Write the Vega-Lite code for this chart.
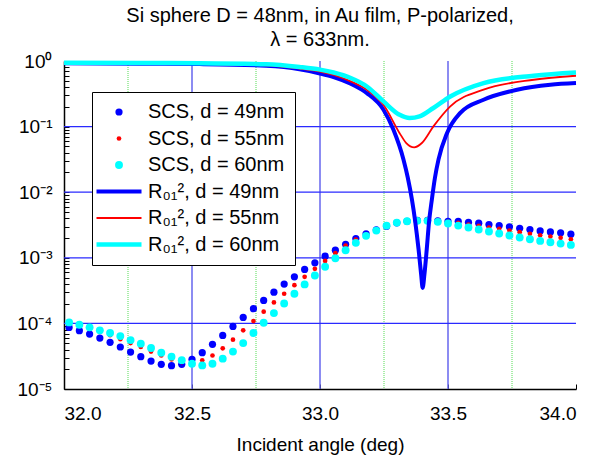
{
  "$schema": "https://vega.github.io/schema/vega-lite/v6.json",
  "width": 512,
  "height": 328,
  "autosize": "none",
  "padding": {"left": 64, "top": 61, "right": 34, "bottom": 73},
  "background": "white",
  "view": {"stroke": null},
  "config": {
    "font": "Liberation Sans",
    "axis": {"labelFont": "Liberation Sans", "labelFontSize": 19, "labelColor": "black", "domainColor": "black", "domainWidth": 1.5, "tickColor": "black", "tickWidth": 1, "grid": false, "titleFont": "Liberation Sans", "titleFontSize": 19, "titleFontWeight": "normal", "titleColor": "black"}
  },
  "title": {"text": ["Si sphere D = 48nm, in Au film, P-polarized,", "λ = 633nm."], "font": "Liberation Sans", "fontSize": 20, "fontWeight": "normal", "color": "black", "lineHeight": 24, "offset": 2, "anchor": "middle"},
  "datasets": {
    "vblue": [{"a": 32.5}, {"a": 33.0}, {"a": 33.5}],
    "vgreen": [{"a": 32.25}, {"a": 32.75}, {"a": 33.25}, {"a": 33.75}],
    "hblue": [{"v": 0.1}, {"v": 0.01}, {"v": 0.001}, {"v": 0.0001}],
    "scs": [
      {"a": 32.02, "v": 8.67e-5, "s": "SCS, d = 49nm"},
      {"a": 32.06, "v": 7.76e-5, "s": "SCS, d = 49nm"},
      {"a": 32.10, "v": 6.87e-5, "s": "SCS, d = 49nm"},
      {"a": 32.14, "v": 5.97e-5, "s": "SCS, d = 49nm"},
      {"a": 32.18, "v": 5.14e-5, "s": "SCS, d = 49nm"},
      {"a": 32.22, "v": 4.37e-5, "s": "SCS, d = 49nm"},
      {"a": 32.26, "v": 3.66e-5, "s": "SCS, d = 49nm"},
      {"a": 32.30, "v": 3.11e-5, "s": "SCS, d = 49nm"},
      {"a": 32.34, "v": 2.67e-5, "s": "SCS, d = 49nm"},
      {"a": 32.38, "v": 2.38e-5, "s": "SCS, d = 49nm"},
      {"a": 32.42, "v": 2.27e-5, "s": "SCS, d = 49nm"},
      {"a": 32.46, "v": 2.38e-5, "s": "SCS, d = 49nm"},
      {"a": 32.50, "v": 2.83e-5, "s": "SCS, d = 49nm"},
      {"a": 32.54, "v": 3.58e-5, "s": "SCS, d = 49nm"},
      {"a": 32.58, "v": 4.79e-5, "s": "SCS, d = 49nm"},
      {"a": 32.62, "v": 6.56e-5, "s": "SCS, d = 49nm"},
      {"a": 32.66, "v": 8.99e-5, "s": "SCS, d = 49nm"},
      {"a": 32.70, "v": 1.233e-4, "s": "SCS, d = 49nm"},
      {"a": 32.74, "v": 1.675e-4, "s": "SCS, d = 49nm"},
      {"a": 32.78, "v": 2.24e-4, "s": "SCS, d = 49nm"},
      {"a": 32.82, "v": 2.99e-4, "s": "SCS, d = 49nm"},
      {"a": 32.86, "v": 3.98e-4, "s": "SCS, d = 49nm"},
      {"a": 32.90, "v": 5.13e-4, "s": "SCS, d = 49nm"},
      {"a": 32.94, "v": 6.64e-4, "s": "SCS, d = 49nm"},
      {"a": 32.98, "v": 8.39e-4, "s": "SCS, d = 49nm"},
      {"a": 33.02, "v": 1.057e-3, "s": "SCS, d = 49nm"},
      {"a": 33.06, "v": 1.306e-3, "s": "SCS, d = 49nm"},
      {"a": 33.10, "v": 1.61e-3, "s": "SCS, d = 49nm"},
      {"a": 33.14, "v": 1.968e-3, "s": "SCS, d = 49nm"},
      {"a": 33.18, "v": 2.317e-3, "s": "SCS, d = 49nm"},
      {"a": 33.22, "v": 2.667e-3, "s": "SCS, d = 49nm"},
      {"a": 33.26, "v": 3.027e-3, "s": "SCS, d = 49nm"},
      {"a": 33.30, "v": 3.41e-3, "s": "SCS, d = 49nm"},
      {"a": 33.34, "v": 3.606e-3, "s": "SCS, d = 49nm"},
      {"a": 33.38, "v": 3.733e-3, "s": "SCS, d = 49nm"},
      {"a": 33.42, "v": 3.733e-3, "s": "SCS, d = 49nm"},
      {"a": 33.46, "v": 3.656e-3, "s": "SCS, d = 49nm"},
      {"a": 33.50, "v": 3.606e-3, "s": "SCS, d = 49nm"},
      {"a": 33.54, "v": 3.606e-3, "s": "SCS, d = 49nm"},
      {"a": 33.58, "v": 3.483e-3, "s": "SCS, d = 49nm"},
      {"a": 33.62, "v": 3.365e-3, "s": "SCS, d = 49nm"},
      {"a": 33.66, "v": 3.214e-3, "s": "SCS, d = 49nm"},
      {"a": 33.70, "v": 3.097e-3, "s": "SCS, d = 49nm"},
      {"a": 33.74, "v": 2.965e-3, "s": "SCS, d = 49nm"},
      {"a": 33.78, "v": 2.818e-3, "s": "SCS, d = 49nm"},
      {"a": 33.82, "v": 2.698e-3, "s": "SCS, d = 49nm"},
      {"a": 33.86, "v": 2.57e-3, "s": "SCS, d = 49nm"},
      {"a": 33.90, "v": 2.483e-3, "s": "SCS, d = 49nm"},
      {"a": 33.94, "v": 2.399e-3, "s": "SCS, d = 49nm"},
      {"a": 33.98, "v": 2.291e-3, "s": "SCS, d = 49nm"},
      {"a": 32.02, "v": 1.0e-4, "s": "SCS, d = 55nm"},
      {"a": 32.06, "v": 9.12e-5, "s": "SCS, d = 55nm"},
      {"a": 32.10, "v": 8.32e-5, "s": "SCS, d = 55nm"},
      {"a": 32.14, "v": 7.41e-5, "s": "SCS, d = 55nm"},
      {"a": 32.18, "v": 6.61e-5, "s": "SCS, d = 55nm"},
      {"a": 32.22, "v": 5.75e-5, "s": "SCS, d = 55nm"},
      {"a": 32.26, "v": 5.01e-5, "s": "SCS, d = 55nm"},
      {"a": 32.30, "v": 4.37e-5, "s": "SCS, d = 55nm"},
      {"a": 32.34, "v": 3.72e-5, "s": "SCS, d = 55nm"},
      {"a": 32.38, "v": 3.24e-5, "s": "SCS, d = 55nm"},
      {"a": 32.42, "v": 2.82e-5, "s": "SCS, d = 55nm"},
      {"a": 32.46, "v": 2.57e-5, "s": "SCS, d = 55nm"},
      {"a": 32.50, "v": 2.51e-5, "s": "SCS, d = 55nm"},
      {"a": 32.54, "v": 2.74e-5, "s": "SCS, d = 55nm"},
      {"a": 32.58, "v": 3.24e-5, "s": "SCS, d = 55nm"},
      {"a": 32.62, "v": 4.17e-5, "s": "SCS, d = 55nm"},
      {"a": 32.66, "v": 5.65e-5, "s": "SCS, d = 55nm"},
      {"a": 32.70, "v": 7.83e-5, "s": "SCS, d = 55nm"},
      {"a": 32.74, "v": 1.084e-4, "s": "SCS, d = 55nm"},
      {"a": 32.78, "v": 1.507e-4, "s": "SCS, d = 55nm"},
      {"a": 32.82, "v": 2.09e-4, "s": "SCS, d = 55nm"},
      {"a": 32.86, "v": 2.83e-4, "s": "SCS, d = 55nm"},
      {"a": 32.90, "v": 3.83e-4, "s": "SCS, d = 55nm"},
      {"a": 32.94, "v": 5.13e-4, "s": "SCS, d = 55nm"},
      {"a": 32.98, "v": 6.78e-4, "s": "SCS, d = 55nm"},
      {"a": 33.02, "v": 8.97e-4, "s": "SCS, d = 55nm"},
      {"a": 33.06, "v": 1.175e-3, "s": "SCS, d = 55nm"},
      {"a": 33.10, "v": 1.538e-3, "s": "SCS, d = 55nm"},
      {"a": 33.14, "v": 1.897e-3, "s": "SCS, d = 55nm"},
      {"a": 33.18, "v": 2.239e-3, "s": "SCS, d = 55nm"},
      {"a": 33.22, "v": 2.63e-3, "s": "SCS, d = 55nm"},
      {"a": 33.26, "v": 2.992e-3, "s": "SCS, d = 55nm"},
      {"a": 33.30, "v": 3.365e-3, "s": "SCS, d = 55nm"},
      {"a": 33.34, "v": 3.606e-3, "s": "SCS, d = 55nm"},
      {"a": 33.38, "v": 3.80e-3, "s": "SCS, d = 55nm"},
      {"a": 33.42, "v": 3.89e-3, "s": "SCS, d = 55nm"},
      {"a": 33.46, "v": 3.715e-3, "s": "SCS, d = 55nm"},
      {"a": 33.50, "v": 3.548e-3, "s": "SCS, d = 55nm"},
      {"a": 33.54, "v": 3.404e-3, "s": "SCS, d = 55nm"},
      {"a": 33.58, "v": 3.214e-3, "s": "SCS, d = 55nm"},
      {"a": 33.62, "v": 3.069e-3, "s": "SCS, d = 55nm"},
      {"a": 33.66, "v": 2.891e-3, "s": "SCS, d = 55nm"},
      {"a": 33.70, "v": 2.761e-3, "s": "SCS, d = 55nm"},
      {"a": 33.74, "v": 2.60e-3, "s": "SCS, d = 55nm"},
      {"a": 33.78, "v": 2.455e-3, "s": "SCS, d = 55nm"},
      {"a": 33.82, "v": 2.317e-3, "s": "SCS, d = 55nm"},
      {"a": 33.86, "v": 2.208e-3, "s": "SCS, d = 55nm"},
      {"a": 33.90, "v": 2.109e-3, "s": "SCS, d = 55nm"},
      {"a": 33.94, "v": 2.014e-3, "s": "SCS, d = 55nm"},
      {"a": 33.98, "v": 1.919e-3, "s": "SCS, d = 55nm"},
      {"a": 32.02, "v": 1.035e-4, "s": "SCS, d = 60nm"},
      {"a": 32.06, "v": 9.55e-5, "s": "SCS, d = 60nm"},
      {"a": 32.10, "v": 8.71e-5, "s": "SCS, d = 60nm"},
      {"a": 32.14, "v": 7.83e-5, "s": "SCS, d = 60nm"},
      {"a": 32.18, "v": 7.13e-5, "s": "SCS, d = 60nm"},
      {"a": 32.22, "v": 6.41e-5, "s": "SCS, d = 60nm"},
      {"a": 32.26, "v": 5.57e-5, "s": "SCS, d = 60nm"},
      {"a": 32.30, "v": 4.91e-5, "s": "SCS, d = 60nm"},
      {"a": 32.34, "v": 4.21e-5, "s": "SCS, d = 60nm"},
      {"a": 32.38, "v": 3.57e-5, "s": "SCS, d = 60nm"},
      {"a": 32.42, "v": 3.11e-5, "s": "SCS, d = 60nm"},
      {"a": 32.46, "v": 2.75e-5, "s": "SCS, d = 60nm"},
      {"a": 32.50, "v": 2.43e-5, "s": "SCS, d = 60nm"},
      {"a": 32.54, "v": 2.29e-5, "s": "SCS, d = 60nm"},
      {"a": 32.58, "v": 2.43e-5, "s": "SCS, d = 60nm"},
      {"a": 32.62, "v": 2.90e-5, "s": "SCS, d = 60nm"},
      {"a": 32.66, "v": 3.72e-5, "s": "SCS, d = 60nm"},
      {"a": 32.70, "v": 5.01e-5, "s": "SCS, d = 60nm"},
      {"a": 32.74, "v": 7.13e-5, "s": "SCS, d = 60nm"},
      {"a": 32.78, "v": 1.023e-4, "s": "SCS, d = 60nm"},
      {"a": 32.82, "v": 1.435e-4, "s": "SCS, d = 60nm"},
      {"a": 32.86, "v": 2.014e-4, "s": "SCS, d = 60nm"},
      {"a": 32.90, "v": 2.83e-4, "s": "SCS, d = 60nm"},
      {"a": 32.94, "v": 3.93e-4, "s": "SCS, d = 60nm"},
      {"a": 32.98, "v": 5.37e-4, "s": "SCS, d = 60nm"},
      {"a": 33.02, "v": 7.29e-4, "s": "SCS, d = 60nm"},
      {"a": 33.06, "v": 9.86e-4, "s": "SCS, d = 60nm"},
      {"a": 33.10, "v": 1.306e-3, "s": "SCS, d = 60nm"},
      {"a": 33.14, "v": 1.69e-3, "s": "SCS, d = 60nm"},
      {"a": 33.18, "v": 2.163e-3, "s": "SCS, d = 60nm"},
      {"a": 33.22, "v": 2.60e-3, "s": "SCS, d = 60nm"},
      {"a": 33.26, "v": 3.097e-3, "s": "SCS, d = 60nm"},
      {"a": 33.30, "v": 3.443e-3, "s": "SCS, d = 60nm"},
      {"a": 33.34, "v": 3.606e-3, "s": "SCS, d = 60nm"},
      {"a": 33.38, "v": 3.656e-3, "s": "SCS, d = 60nm"},
      {"a": 33.42, "v": 3.656e-3, "s": "SCS, d = 60nm"},
      {"a": 33.46, "v": 3.532e-3, "s": "SCS, d = 60nm"},
      {"a": 33.50, "v": 3.327e-3, "s": "SCS, d = 60nm"},
      {"a": 33.54, "v": 3.097e-3, "s": "SCS, d = 60nm"},
      {"a": 33.58, "v": 2.891e-3, "s": "SCS, d = 60nm"},
      {"a": 33.62, "v": 2.698e-3, "s": "SCS, d = 60nm"},
      {"a": 33.66, "v": 2.512e-3, "s": "SCS, d = 60nm"},
      {"a": 33.70, "v": 2.344e-3, "s": "SCS, d = 60nm"},
      {"a": 33.74, "v": 2.188e-3, "s": "SCS, d = 60nm"},
      {"a": 33.78, "v": 2.042e-3, "s": "SCS, d = 60nm"},
      {"a": 33.82, "v": 1.919e-3, "s": "SCS, d = 60nm"},
      {"a": 33.86, "v": 1.811e-3, "s": "SCS, d = 60nm"},
      {"a": 33.90, "v": 1.726e-3, "s": "SCS, d = 60nm"},
      {"a": 33.94, "v": 1.648e-3, "s": "SCS, d = 60nm"},
      {"a": 33.98, "v": 1.574e-3, "s": "SCS, d = 60nm"}
    ],
    "refl": [
      {"a": 32.00, "v": 0.923, "s": "R₀₁², d = 49nm"},
      {"a": 32.30, "v": 0.910, "s": "R₀₁², d = 49nm"},
      {"a": 32.53, "v": 0.897, "s": "R₀₁², d = 49nm"},
      {"a": 32.79, "v": 0.845, "s": "R₀₁², d = 49nm"},
      {"a": 32.92, "v": 0.75, "s": "R₀₁², d = 49nm"},
      {"a": 33.00, "v": 0.646, "s": "R₀₁², d = 49nm"},
      {"a": 33.053, "v": 0.569, "s": "R₀₁², d = 49nm"},
      {"a": 33.12, "v": 0.45, "s": "R₀₁², d = 49nm"},
      {"a": 33.183, "v": 0.324, "s": "R₀₁², d = 49nm"},
      {"a": 33.248, "v": 0.181, "s": "R₀₁², d = 49nm"},
      {"a": 33.287, "v": 0.0897, "s": "R₀₁², d = 49nm"},
      {"a": 33.326, "v": 0.0316, "s": "R₀₁², d = 49nm"},
      {"a": 33.343, "v": 0.0166, "s": "R₀₁², d = 49nm"},
      {"a": 33.359, "v": 0.00776, "s": "R₀₁², d = 49nm"},
      {"a": 33.372, "v": 0.00355, "s": "R₀₁², d = 49nm"},
      {"a": 33.385, "v": 0.00135, "s": "R₀₁², d = 49nm"},
      {"a": 33.395, "v": 0.000562, "s": "R₀₁², d = 49nm"},
      {"a": 33.401, "v": 0.000347, "s": "R₀₁², d = 49nm"},
      {"a": 33.408, "v": 0.000562, "s": "R₀₁², d = 49nm"},
      {"a": 33.417, "v": 0.00135, "s": "R₀₁², d = 49nm"},
      {"a": 33.426, "v": 0.00355, "s": "R₀₁², d = 49nm"},
      {"a": 33.437, "v": 0.00776, "s": "R₀₁², d = 49nm"},
      {"a": 33.449, "v": 0.0166, "s": "R₀₁², d = 49nm"},
      {"a": 33.463, "v": 0.0316, "s": "R₀₁², d = 49nm"},
      {"a": 33.496, "v": 0.0794, "s": "R₀₁², d = 49nm"},
      {"a": 33.548, "v": 0.162, "s": "R₀₁², d = 49nm"},
      {"a": 33.639, "v": 0.257, "s": "R₀₁², d = 49nm"},
      {"a": 33.77, "v": 0.365, "s": "R₀₁², d = 49nm"},
      {"a": 33.90, "v": 0.435, "s": "R₀₁², d = 49nm"},
      {"a": 34.00, "v": 0.461, "s": "R₀₁², d = 49nm"},
      {"a": 32.00, "v": 0.927, "s": "R₀₁², d = 55nm"},
      {"a": 32.30, "v": 0.915, "s": "R₀₁², d = 55nm"},
      {"a": 32.53, "v": 0.903, "s": "R₀₁², d = 55nm"},
      {"a": 32.79, "v": 0.862, "s": "R₀₁², d = 55nm"},
      {"a": 32.92, "v": 0.765, "s": "R₀₁², d = 55nm"},
      {"a": 33.00, "v": 0.69, "s": "R₀₁², d = 55nm"},
      {"a": 33.053, "v": 0.616, "s": "R₀₁², d = 55nm"},
      {"a": 33.12, "v": 0.49, "s": "R₀₁², d = 55nm"},
      {"a": 33.183, "v": 0.365, "s": "R₀₁², d = 55nm"},
      {"a": 33.248, "v": 0.215, "s": "R₀₁², d = 55nm"},
      {"a": 33.311, "v": 0.0794, "s": "R₀₁², d = 55nm"},
      {"a": 33.337, "v": 0.0562, "s": "R₀₁², d = 55nm"},
      {"a": 33.368, "v": 0.0483, "s": "R₀₁², d = 55nm"},
      {"a": 33.398, "v": 0.0562, "s": "R₀₁², d = 55nm"},
      {"a": 33.443, "v": 0.1007, "s": "R₀₁², d = 55nm"},
      {"a": 33.509, "v": 0.204, "s": "R₀₁², d = 55nm"},
      {"a": 33.639, "v": 0.365, "s": "R₀₁², d = 55nm"},
      {"a": 33.835, "v": 0.518, "s": "R₀₁², d = 55nm"},
      {"a": 34.00, "v": 0.596, "s": "R₀₁², d = 55nm"},
      {"a": 32.00, "v": 0.938, "s": "R₀₁², d = 60nm"},
      {"a": 32.30, "v": 0.932, "s": "R₀₁², d = 60nm"},
      {"a": 32.53, "v": 0.925, "s": "R₀₁², d = 60nm"},
      {"a": 32.79, "v": 0.893, "s": "R₀₁², d = 60nm"},
      {"a": 32.92, "v": 0.81, "s": "R₀₁², d = 60nm"},
      {"a": 33.00, "v": 0.738, "s": "R₀₁², d = 60nm"},
      {"a": 33.053, "v": 0.668, "s": "R₀₁², d = 60nm"},
      {"a": 33.12, "v": 0.55, "s": "R₀₁², d = 60nm"},
      {"a": 33.183, "v": 0.409, "s": "R₀₁², d = 60nm"},
      {"a": 33.248, "v": 0.242, "s": "R₀₁², d = 60nm"},
      {"a": 33.311, "v": 0.151, "s": "R₀₁², d = 60nm"},
      {"a": 33.35, "v": 0.135, "s": "R₀₁², d = 60nm"},
      {"a": 33.389, "v": 0.143, "s": "R₀₁², d = 60nm"},
      {"a": 33.443, "v": 0.192, "s": "R₀₁², d = 60nm"},
      {"a": 33.509, "v": 0.288, "s": "R₀₁², d = 60nm"},
      {"a": 33.639, "v": 0.461, "s": "R₀₁², d = 60nm"},
      {"a": 33.835, "v": 0.596, "s": "R₀₁², d = 60nm"},
      {"a": 34.00, "v": 0.668, "s": "R₀₁², d = 60nm"}
    ]
  },
  "layer": [
    {
      "data": {"name": "vgreen"},
      "mark": {"type": "rule", "color": "#55dd55", "strokeWidth": 1, "strokeDash": [1, 1]},
      "encoding": {"x": {"field": "a", "type": "quantitative", "scale": {"domain": [32, 34], "nice": false, "zero": false}}}
    },
    {
      "data": {"name": "vblue"},
      "mark": {"type": "rule", "color": "#6666ee", "strokeWidth": 1.5},
      "encoding": {"x": {"field": "a", "type": "quantitative"}}
    },
    {
      "data": {"name": "hblue"},
      "mark": {"type": "rule", "color": "#2a2aff", "strokeWidth": 1.3},
      "encoding": {"y": {"field": "v", "type": "quantitative", "scale": {"type": "log", "domain": [0.00001, 1], "nice": false}}}
    },
    {
      "data": {"name": "scs"},
      "mark": {"type": "point", "filled": true, "opacity": 1},
      "encoding": {
        "x": {"field": "a", "type": "quantitative", "scale": {"domain": [32, 34], "nice": false, "zero": false},
          "axis": {"values": [32, 32.5, 33, 33.5, 34], "format": ".1f", "tickSize": -5, "labelPadding": 20, "title": "Incident angle (deg)", "titlePadding": 12}},
        "y": {"field": "v", "type": "quantitative", "scale": {"type": "log", "domain": [0.00001, 1], "nice": false},
          "axis": {"title": null, "tickSize": -5, "labelPadding": 17,
            "values": [0.00001, 0.00002, 0.00003, 0.00004, 0.00005, 0.00006, 0.00007, 0.00008, 0.00009, 0.0001, 0.0002, 0.0003, 0.0004, 0.0005, 0.0006, 0.0007, 0.0008, 0.0009, 0.001, 0.002, 0.003, 0.004, 0.005, 0.006, 0.007, 0.008, 0.009, 0.01, 0.02, 0.03, 0.04, 0.05, 0.06, 0.07, 0.08, 0.09, 0.1, 0.2, 0.3, 0.4, 0.5, 0.6, 0.7, 0.8, 0.9, 1],
            "labelExpr": "datum.value == 1 ? '10⁰' : datum.value == 0.1 ? '10⁻¹' : datum.value == 0.01 ? '10⁻²' : datum.value == 0.001 ? '10⁻³' : datum.value == 0.0001 ? '10⁻⁴' : datum.value == 0.00001 ? '10⁻⁵' : ''"}},
        "color": {"field": "s", "type": "nominal",
          "scale": {"domain": ["SCS, d = 49nm", "SCS, d = 55nm", "SCS, d = 60nm", "R₀₁², d = 49nm", "R₀₁², d = 55nm", "R₀₁², d = 60nm"], "range": ["#0000ff", "#ff0000", "#00ffff", "#0000ff", "#ff0000", "#00ffff"]},
          "legend": {"title": null, "orient": "none", "legendX": 28, "legendY": 31, "strokeColor": "black", "fillColor": "white", "padding": 10, "rowPadding": 6.5, "labelFont": "Liberation Sans", "labelFontSize": 20, "labelColor": "black", "labelOffset": 19, "symbolOffset": 7, "cornerRadius": 0}},
        "stroke": {"field": "s", "type": "nominal",
          "scale": {"domain": ["SCS, d = 49nm", "SCS, d = 55nm", "SCS, d = 60nm", "R₀₁², d = 49nm", "R₀₁², d = 55nm", "R₀₁², d = 60nm"], "range": ["#0000ff", "#ff0000", "#00ffff", "#0000ff", "#ff0000", "#00ffff"]}},
        "shape": {"field": "s", "type": "nominal",
          "scale": {"domain": ["SCS, d = 49nm", "SCS, d = 55nm", "SCS, d = 60nm", "R₀₁², d = 49nm", "R₀₁², d = 55nm", "R₀₁², d = 60nm"], "range": ["circle", "circle", "circle", "M-3,0H3", "M-3,0H3", "M-3,0H3"]}},
        "size": {"field": "s", "type": "nominal",
          "scale": {"type": "ordinal", "domain": ["SCS, d = 49nm", "SCS, d = 55nm", "SCS, d = 60nm", "R₀₁², d = 49nm", "R₀₁², d = 55nm", "R₀₁², d = 60nm"], "range": [52, 22, 62, 225, 225, 225]}},
        "strokeWidth": {"field": "s", "type": "nominal",
          "scale": {"type": "ordinal", "domain": ["SCS, d = 49nm", "SCS, d = 55nm", "SCS, d = 60nm", "R₀₁², d = 49nm", "R₀₁², d = 55nm", "R₀₁², d = 60nm"], "range": [0, 0, 0, 4, 1.8, 4.5]}}
      }
    },
    {
      "data": {"name": "refl"},
      "mark": {"type": "line", "interpolate": "monotone"},
      "encoding": {
        "x": {"field": "a", "type": "quantitative"},
        "y": {"field": "v", "type": "quantitative"},
        "color": {"field": "s", "type": "nominal", "legend": null},
        "strokeWidth": {"field": "s", "type": "nominal", "legend": null,
          "scale": {"type": "ordinal", "domain": ["SCS, d = 49nm", "SCS, d = 55nm", "SCS, d = 60nm", "R₀₁², d = 49nm", "R₀₁², d = 55nm", "R₀₁², d = 60nm"], "range": [0, 0, 0, 4, 1.8, 4.5]}}
      }
    }
  ]
}
